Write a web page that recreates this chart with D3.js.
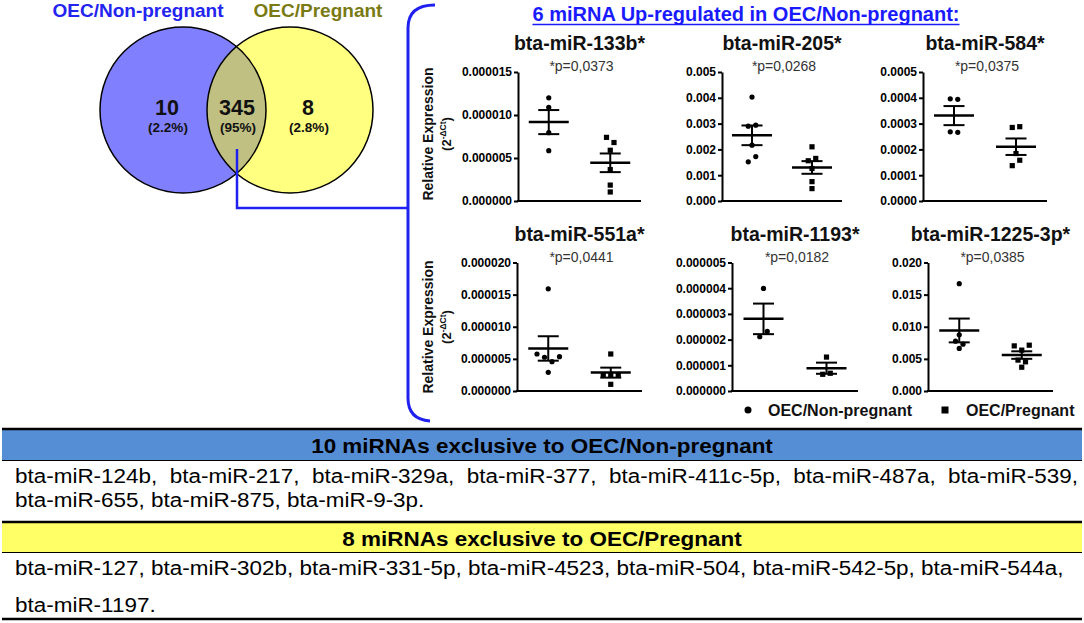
<!DOCTYPE html>
<html>
<head>
<meta charset="utf-8">
<script src="https://cdn.jsdelivr.net/npm/d3@7"></script>
<style>
  html, body { margin: 0; padding: 0; background: #fff; }
  svg { display: block; font-family: "Liberation Sans", Arial, sans-serif; }
</style>
</head>
<body>
<svg id="chart" width="1084" height="623"></svg>
<script>
// ---------------- DATA ----------------
const vennSets = ["OEC/Non-pregnant", "OEC/Pregnant"];
const vennCounts = [10, 345, 8];
const vennPercents = ["(2.2%)", "(95%)", "(2.8%)"];

const mainTitle = "6 miRNA Up-regulated in OEC/Non-pregnant:";
const groups = ["OEC/Non-pregnant", "OEC/Pregnant"];
const miRNAs = ["bta-miR-133b*", "bta-miR-205*", "bta-miR-584*", "bta-miR-551a*", "bta-miR-1193*", "bta-miR-1225-3p*"];
const pValues = ["*p=0,0373", "*p=0,0268", "*p=0,0375", "*p=0,0441", "*p=0,0182", "*p=0,0385"];
const yMax = [0.000015, 0.005, 0.0005, 0.000020, 0.000005, 0.020];
const yTickStep = [0.000005, 0.001, 0.0001, 0.000005, 0.000001, 0.005];
const yTickDecimals = [6, 3, 4, 6, 6, 3];

const nonPregnantValues = [
  [0.0000120, 0.0000109, 0.00000795, 0.00000585],
  [0.00403, 0.00290, 0.00294, 0.002165, 0.00152, 0.00172],
  [0.000396, 0.000394, 0.000268, 0.000266],
  [0.0000159, 0.00000576, 0.00000525, 0.00000456, 0.00000534, 0.00000291],
  [0.00000399, 0.00000211, 0.00000232],
  [0.0167, 0.00875, 0.00775, 0.00662, 0.00729]
];
const pregnantValues = [
  [0.0000074, 0.0000068, 0.0000059, 0.00000365, 0.00000185, 0.00000105],
  [0.00210, 0.00156, 0.00165, 0.00126, 0.00075, 0.00048],
  [0.000285, 0.000288, 0.000184, 0.000137, 0.000158],
  [0.00000576, 0.00000255, 0.00000245, 0.0000025, 0.00000104],
  [0.00000132, 0.00000065, 0.00000069],
  [0.00702, 0.00636, 0.00713, 0.00481, 0.00370, 0.00454]
];

const tableHeaders = ["10 miRNAs exclusive to OEC/Non-pregnant", "8 miRNAs exclusive to OEC/Pregnant"];
const nonPregnantExclusive = [
  "bta-miR-124b,  bta-miR-217,  bta-miR-329a,  bta-miR-377,  bta-miR-411c-5p,  bta-miR-487a,  bta-miR-539,",
  "bta-miR-655, bta-miR-875, bta-miR-9-3p."
];
const pregnantExclusive = [
  "bta-miR-127, bta-miR-302b, bta-miR-331-5p, bta-miR-4523, bta-miR-504, bta-miR-542-5p, bta-miR-544a,",
  "bta-miR-1197."
];
const legendLabels = ["OEC/Non-pregnant", "OEC/Pregnant"];

// ---------------- DRAW ----------------
const svg = d3.select("#chart");
svg.append("rect").attr("width", 1084).attr("height", 623).attr("fill", "#fff");

// Venn
const vennC = [{x: 183, y: 110}, {x: 290, y: 110}];
const vennR = 83;
const defs = svg.append("defs");
defs.append("clipPath").attr("id", "clipA").append("circle")
  .attr("cx", vennC[0].x).attr("cy", vennC[0].y).attr("r", vennR);
const venn = svg.append("g");
venn.append("circle").attr("cx", vennC[0].x).attr("cy", vennC[0].y).attr("r", vennR).attr("fill", "#8080ff");
venn.append("circle").attr("cx", vennC[1].x).attr("cy", vennC[1].y).attr("r", vennR).attr("fill", "#ffff80");
venn.append("circle").attr("cx", vennC[1].x).attr("cy", vennC[1].y).attr("r", vennR).attr("fill", "#c0c082").attr("clip-path", "url(#clipA)");
vennC.forEach(c => venn.append("circle").attr("cx", c.x).attr("cy", c.y).attr("r", vennR)
  .attr("fill", "none").attr("stroke", "#000").attr("stroke-width", 1.5));
const vennLabelX = [138, 318];
const vennLabelColor = ["#2424f0", "#7a7a14"];
vennSets.forEach((s, i) => venn.append("text").attr("x", vennLabelX[i]).attr("y", 17)
  .attr("text-anchor", "middle").attr("font-weight", "bold").attr("font-size", 19)
  .attr("fill", vennLabelColor[i]).text(s));
const regionX = [167, 237, 308];
vennCounts.forEach((c, i) => {
  venn.append("text").attr("x", regionX[i]).attr("y", 115).attr("text-anchor", "middle")
    .attr("font-weight", "bold").attr("font-size", 21.5).attr("fill", "#111").text(c);
  venn.append("text").attr("x", regionX[i] + 1).attr("y", 132).attr("text-anchor", "middle")
    .attr("font-weight", "bold").attr("font-size", 13.5).attr("fill", "#111").text(vennPercents[i]);
});

// connector + brace
const blue = "#2020f0";
svg.append("path").attr("d", "M237,149 L237,208 L408,208").attr("fill", "none")
  .attr("stroke", blue).attr("stroke-width", 2.5);
svg.append("path").attr("d", "M435,5 C418,5 408,12 408,28 L408,398 C408,413 416,420 430,421")
  .attr("fill", "none").attr("stroke", blue).attr("stroke-width", 3);

// main title
const mt = svg.append("text").attr("x", 746).attr("y", 21).attr("text-anchor", "middle")
  .attr("font-weight", "bold").attr("font-size", 20).attr("fill", "#1a1aff").text(mainTitle);
const mtw = mt.node().getComputedTextLength();
svg.append("line").attr("x1", 746 - mtw / 2).attr("x2", 746 + mtw / 2).attr("y1", 24.5).attr("y2", 24.5)
  .attr("stroke", "#1a1aff").attr("stroke-width", 1.5);

// panels
const panelLayout = [
  {x0: 518, x1: 641, top: 72, bottom: 201},
  {x0: 722, x1: 842, top: 72, bottom: 201},
  {x0: 923, x1: 1047, top: 72, bottom: 201},
  {x0: 517, x1: 642, top: 262.5, bottom: 391},
  {x0: 732, x1: 858, top: 262.5, bottom: 391},
  {x0: 928, x1: 1053, top: 262.5, bottom: 391}
];

function dodge(vals, y, d, thr) {
  const rows = [];
  vals.forEach(v => {
    const yy = y(v);
    let row = rows.find(r => r.some(p => Math.abs(p.y - yy) < thr));
    if (!row) { row = []; rows.push(row); }
    row.push({v: v, y: yy});
  });
  const out = [];
  rows.forEach(r => r.forEach((p, i) => { p.dx = (i - (r.length - 1) / 2) * d; out.push(p); }));
  return out;
}

miRNAs.forEach((name, k) => {
  const L = panelLayout[k];
  const g = svg.append("g");
  const y = d3.scaleLinear().domain([0, yMax[k]]).range([L.bottom, L.top]);
  const x = d3.scalePoint().domain(groups).range([L.x0, L.x1]).padding(0.5);
  const ticks = d3.range(0, yMax[k] + yTickStep[k] / 2, yTickStep[k]);
  const fmt = d3.format("." + yTickDecimals[k] + "f");
  const ax = g.append("g").attr("transform", `translate(${L.x0},0)`)
    .call(d3.axisLeft(y).tickValues(ticks).tickFormat(fmt).tickSize(4).tickSizeOuter(0).tickPadding(2));
  ax.select(".domain").attr("stroke", "#000").attr("stroke-width", 2);
  ax.selectAll(".tick line").attr("stroke", "#000").attr("stroke-width", 2);
  ax.selectAll(".tick text").attr("font-family", "Liberation Sans, Arial, sans-serif")
    .attr("font-weight", "bold").attr("font-size", 12).attr("fill", "#000");
  g.append("line").attr("x1", L.x0 - 1).attr("x2", L.x1).attr("y1", L.bottom).attr("y2", L.bottom)
    .attr("stroke", "#000").attr("stroke-width", 2);
  const cx = (L.x0 + L.x1) / 2;
  g.append("text").attr("x", cx).attr("y", L.top - 22).attr("text-anchor", "middle")
    .attr("font-weight", "bold").attr("font-size", 19.5).attr("fill", "#111").text(name);
  g.append("text").attr("x", cx + 2).attr("y", L.top - 1).attr("text-anchor", "middle")
    .attr("font-size", 14).attr("fill", "#333").text(pValues[k]);

  [nonPregnantValues[k], pregnantValues[k]].forEach((vals, gi) => {
    const gx = x(groups[gi]);
    const mean = d3.mean(vals);
    const sem = d3.deviation(vals) / Math.sqrt(vals.length);
    g.append("line").attr("x1", gx).attr("x2", gx).attr("y1", y(mean + sem)).attr("y2", y(mean - sem))
      .attr("stroke", "#000").attr("stroke-width", 2);
    [mean + sem, mean - sem].forEach(v => g.append("line").attr("x1", gx - 10.5).attr("x2", gx + 10.5)
      .attr("y1", y(v)).attr("y2", y(v)).attr("stroke", "#000").attr("stroke-width", 2));
    g.append("line").attr("x1", gx - 20).attr("x2", gx + 20).attr("y1", y(mean)).attr("y2", y(mean))
      .attr("stroke", "#000").attr("stroke-width", 2.5);
    const pts = dodge(vals, y, 7.5, 6);
    pts.forEach(p => {
      if (gi === 0) {
        g.append("circle").attr("cx", gx + p.dx).attr("cy", p.y).attr("r", 2.6).attr("fill", "#000");
      } else {
        g.append("rect").attr("x", gx + p.dx - 2.6).attr("y", p.y - 2.6).attr("width", 5.2).attr("height", 5.2).attr("fill", "#000");
      }
    });
  });
});

// y labels
[134, 327].forEach(cy => {
  svg.append("text").attr("transform", `translate(433,${cy}) rotate(-90)`).attr("text-anchor", "middle")
    .attr("font-weight", "bold").attr("font-size", 14).attr("fill", "#111").text("Relative Expression");
  const t2 = svg.append("text").attr("transform", `translate(451,${cy}) rotate(-90)`).attr("text-anchor", "middle")
    .attr("font-weight", "bold").attr("font-size", 13).attr("fill", "#111");
  t2.append("tspan").text("(2");
  t2.append("tspan").attr("font-size", 8.5).attr("dy", -5).text("-ΔCt");
  t2.append("tspan").attr("dy", 5).text(")");
});

// legend
svg.append("circle").attr("cx", 748).attr("cy", 410).attr("r", 3.5).attr("fill", "#000");
svg.append("text").attr("x", 768).attr("y", 416).attr("font-weight", "bold").attr("font-size", 16).attr("fill", "#111").text(legendLabels[0]);
svg.append("rect").attr("x", 941.5).attr("y", 406.5).attr("width", 7).attr("height", 7).attr("fill", "#000");
svg.append("text").attr("x", 966).attr("y", 416).attr("font-weight", "bold").attr("font-size", 16).attr("fill", "#111").text(legendLabels[1]);

// table
const tbl = svg.append("g");
tbl.append("rect").attr("x", 2).attr("y", 430).attr("width", 1080).attr("height", 30).attr("fill", "#558ed5");
tbl.append("rect").attr("x", 2).attr("y", 523).attr("width", 1080).attr("height", 29).attr("fill", "#ffff66");
[[429, 2.5], [460.5, 1], [522, 2.5], [552.5, 1], [619, 2.5]].forEach(([yy, w]) =>
  tbl.append("line").attr("x1", 2).attr("x2", 1082).attr("y1", yy).attr("y2", yy).attr("stroke", "#000").attr("stroke-width", w));
const stretch = 1.07;
[[tableHeaders[0], 453], [tableHeaders[1], 546]].forEach(([s, yy]) =>
  tbl.append("text").attr("transform", `translate(542,${yy}) scale(${stretch},1)`).attr("text-anchor", "middle")
    .attr("font-weight", "bold").attr("font-size", 21).attr("fill", "#000").text(s));
const rowY = [483, 507, 575, 612];
nonPregnantExclusive.concat(pregnantExclusive).forEach((s, i) =>
  tbl.append("text").attr("transform", `translate(15,${rowY[i]}) scale(${stretch},1)`)
    .attr("font-size", 21).attr("fill", "#000")
    .attr("xml:space", "preserve").style("white-space", "pre").text(s));
</script>
</body>
</html>
